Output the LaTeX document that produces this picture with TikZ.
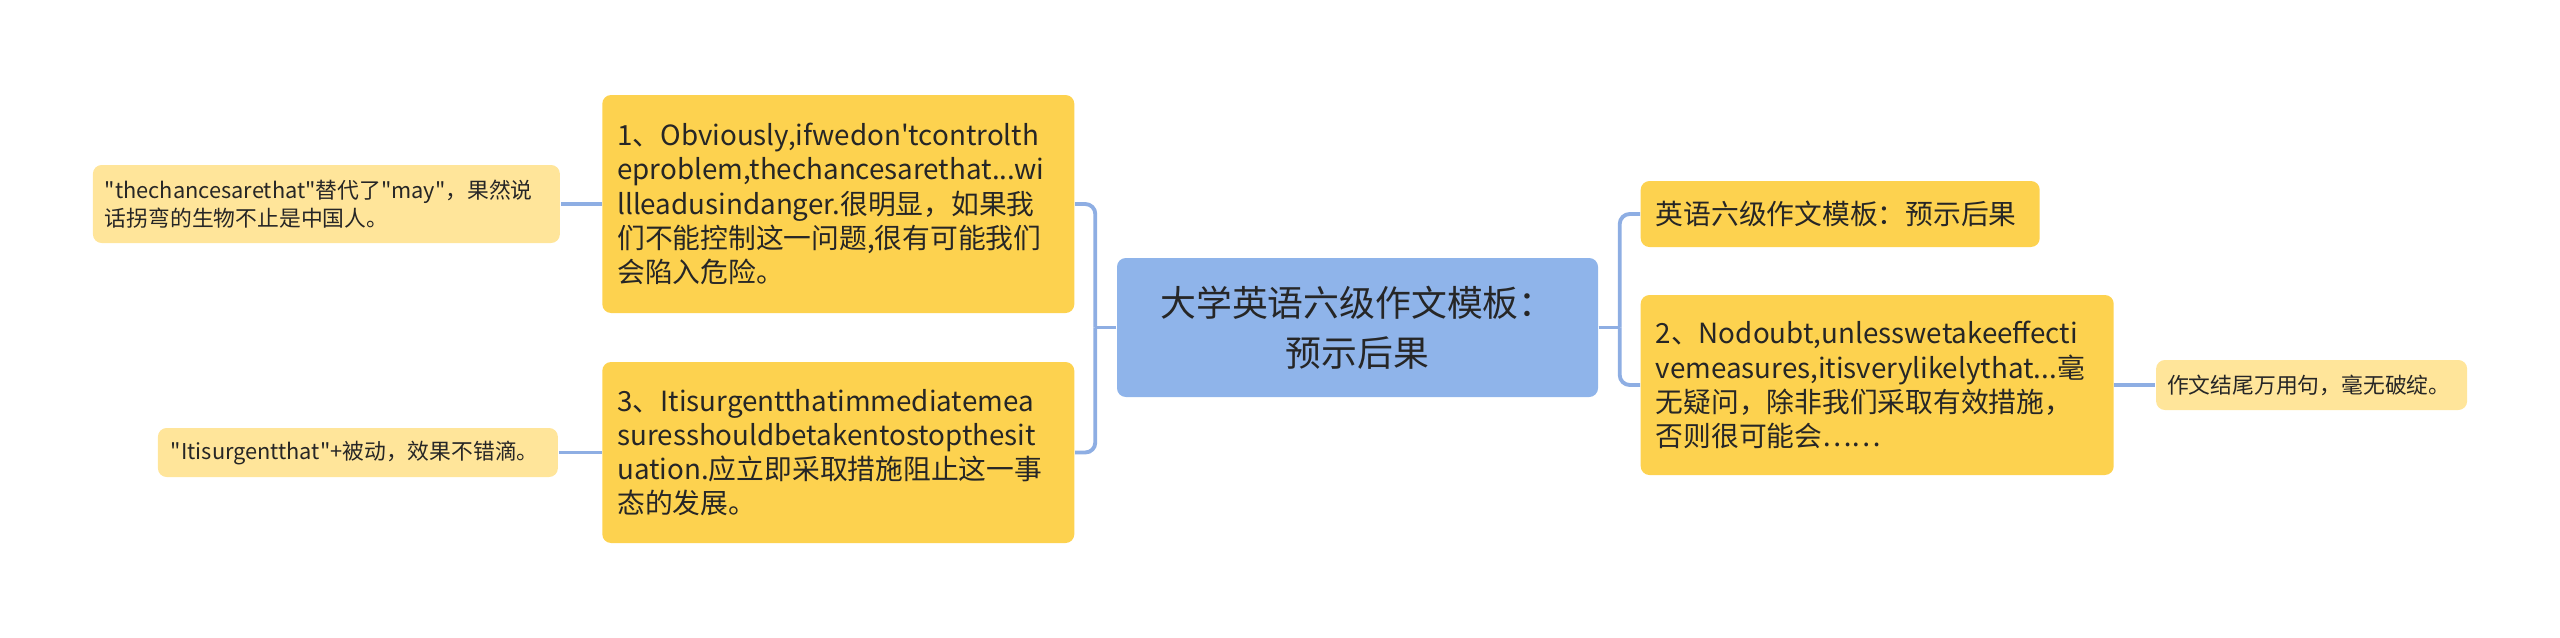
\documentclass[tikz,border=0pt]{standalone}
\usepackage{fontspec}
\setmainfont{Noto Sans CJK SC}[Ligatures=TeXOff]
\usetikzlibrary{positioning}
\definecolor{cRoot}{HTML}{8FB4EA}
\definecolor{cMain}{HTML}{FDD24F}
\definecolor{cLeaf}{HTML}{FFE59A}
\definecolor{cLink}{HTML}{8EAEE3}
\definecolor{cTxt}{HTML}{262626}

\begin{document}
\begin{tikzpicture}[x=1cm,y=1cm,
  root/.style={fill=cRoot,rounded corners=2.5pt,align=center,text=cTxt,minimum width=4.81cm,minimum height=1.39cm,inner sep=0pt,font=\fontsize{10.2}{14.2}\selectfont},
  topic/.style={fill=cMain,rounded corners=2.5pt,align=left,text=cTxt,inner xsep=0.15cm,inner ysep=0pt,font=\fontsize{7.9}{9.7}\selectfont},
  leaf/.style={fill=cLeaf,rounded corners=2.5pt,align=left,text=cTxt,inner xsep=0.12cm,inner ysep=0pt,font=\fontsize{6.2}{8}\selectfont},
  link/.style={draw=cLink,line width=1.1pt,rounded corners=0.1cm}]
\useasboundingbox (0,0) rectangle (25.6,6.37);
% centre
\node[root] (root) at (13.575,3.095) {大学英语六级作文模板：\\预示后果};
% left branch
\node[topic,anchor=east,text width=4.42cm,minimum height=2.18cm] (n1) at (10.75,4.33)
  {1、Obviously,ifwedon'tcontrolth\\eproblem,thechancesarethat...wi\\llleadusindanger.很明显，如果我\\们不能控制这一问题,很有可能我们\\会陷入危险。};
\node[topic,anchor=east,text width=4.42cm,minimum height=1.81cm] (n3) at (10.75,1.845)
  {3、Itisurgentthatimmediatemea\\suresshouldbetakentostopthesit\\uation.应立即采取措施阻止这一事\\态的发展。};
\node[leaf,left=0.41cm of n1,text width=4.43cm,minimum height=0.78cm] (l1)
  {"thechancesarethat"替代了"may"，果然说\\话拐弯的生物不止是中国人。};
\node[leaf,left=0.43cm of n3,text width=3.74cm,minimum height=0.49cm,inner xsep=0.13cm] (l3)
  {"Itisurgentthat"+被动，效果不错滴。};
% right branch
\node[topic,anchor=west,text width=3.69cm,minimum height=0.66cm] (r1) at (16.40,4.23)
  {英语六级作文模板：预示后果};
\node[topic,anchor=west,text width=4.43cm,minimum height=1.80cm] (r2) at (16.40,2.52)
  {2、Nodoubt,unlesswetakeeffecti\\vemeasures,itisverylikelythat...毫\\无疑问，除非我们采取有效措施，\\否则很可能会……};
\node[leaf,right=0.41cm of r2,text width=2.89cm,minimum height=0.50cm,inner xsep=0.11cm] (r2a)
  {作文结尾万用句，毫无破绽。};
% connectors
\coordinate (ls) at ([xshift=-0.21cm]root.west);
\coordinate (rs) at ([xshift=0.21cm]root.east);
\draw[link] (root.west) -- (ls);
\draw[link] (root.east) -- (rs);
\foreach \n in {n1,n3}{\draw[link] (ls) |- (\n.east);}
\foreach \n in {r1,r2}{\draw[link] (rs) |- (\n.west);}
\draw[link] (n1.west) -- (l1.east);
\draw[link] (n3.west) -- (l3.east);
\draw[link] (r2.east) -- (r2a.west);
\end{tikzpicture}
\end{document}
